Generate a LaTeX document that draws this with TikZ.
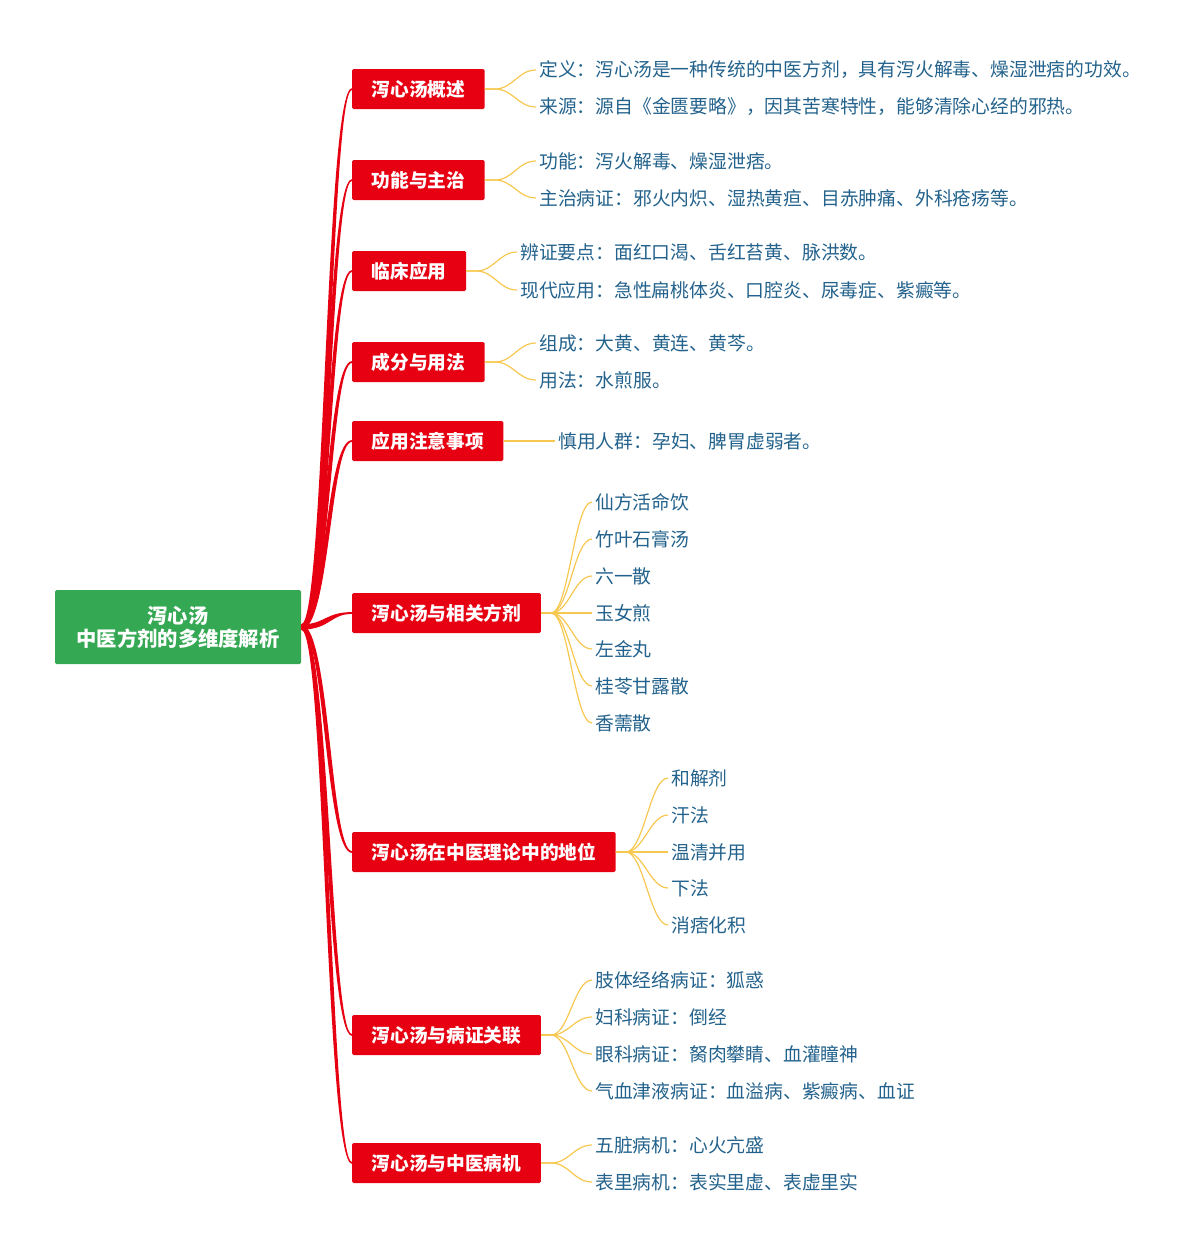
\documentclass[tikz,border=0pt]{standalone}
\usepackage{fontspec}
\setmainfont{Noto Sans CJK SC}
\usetikzlibrary{calc}

\definecolor{rootgreen}{RGB}{52,168,83}
\definecolor{boxred}{RGB}{230,0,18}
\definecolor{twiggold}{RGB}{247,200,80}
\definecolor{leafblue}{RGB}{35,98,140}

\tikzset{
  rootbox/.style={fill=rootgreen, text=white, font=\fontsize{20.3}{23}\selectfont\bfseries,
    align=center, minimum width=246pt, minimum height=74pt, rounded corners=1.5pt, inner sep=0pt},
  branchbox/.style={fill=boxred, text=white, font=\fontsize{18.7}{22}\selectfont\bfseries,
    minimum height=40pt, inner xsep=19.5pt, inner ysep=0pt, rounded corners=1.5pt, anchor=west},
  leaf/.style={text=leafblue, font=\fontsize{18.8}{22}\selectfont, anchor=west, inner xsep=3pt, inner ysep=1pt},
  twig/.style={draw=twiggold, line width=1.2pt},
}

% tapered red link from the root to one branch box (#2 = -1 up, 1 down)
\newcommand{\trunk}[2]{%
  \fill[boxred] ($(root.east)+(0,2.6*#2)$) .. controls ($(root.east)+(23.5,2.6*#2)$) and ($(#1.west)+(-26.5,0.9*#2)$)
    .. ($(#1.west)+(0,0.9*#2)$) -- ($(#1.west)+(0,-0.9*#2)$)
    .. controls ($(#1.west)+(-21.5,-0.9*#2)$) and ($(root.east)+(28.5,-2.6*#2)$) .. ($(root.east)+(0,-2.6*#2)$) -- cycle;}
% gold links from a branch box to its leaves
\newcommand{\twigs}[2]{%
  \foreach \l in {#2} \draw[twig] (#1.east) -- ++(10,0) .. controls +(18,0) and +(-18,0) .. (\l.west);}

\begin{document}
\begin{tikzpicture}[x=1pt, y=-1pt]
\useasboundingbox (0,0) rectangle (1200,1253);

\node[rootbox] (root) at (178,627) {泻心汤\\中医方剂的多维度解析};

% branches
\node[branchbox] (b1) at (352,89) {泻心汤概述};
\node[branchbox] (b2) at (352,180) {功能与主治};
\node[branchbox] (b3) at (352,271) {临床应用};
\node[branchbox] (b4) at (352,362) {成分与用法};
\node[branchbox] (b5) at (352,441) {应用注意事项};
\node[branchbox] (b6) at (352,613) {泻心汤与相关方剂};
\node[branchbox] (b7) at (352,852) {泻心汤在中医理论中的地位};
\node[branchbox] (b8) at (352,1035) {泻心汤与病证关联};
\node[branchbox] (b9) at (352,1163) {泻心汤与中医病机};

\foreach \b in {b1,b2,b3,b4,b5,b6} \trunk{\b}{-1};
\foreach \b in {b7,b8,b9} \trunk{\b}{1};

% leaves
\node[leaf] (l11) at (536,70) {定义：泻心汤是一种传统的中医方剂，具有泻火解毒、燥湿泄痞的功效。};
\node[leaf] (l12) at (536,107) {来源：源自《金匮要略》，因其苦寒特性，能够清除心经的邪热。};

\node[leaf] (l21) at (536,161) {功能：泻火解毒、燥湿泄痞。};
\node[leaf] (l22) at (536,198) {主治病证：邪火内炽、湿热黄疸、目赤肿痛、外科疮疡等。};

\node[leaf] (l31) at (517,252) {辨证要点：面红口渴、舌红苔黄、脉洪数。};
\node[leaf] (l32) at (517,290) {现代应用：急性扁桃体炎、口腔炎、尿毒症、紫癜等。};

\node[leaf] (l41) at (536,343) {组成：大黄、黄连、黄芩。};
\node[leaf] (l42) at (536,380) {用法：水煎服。};

\node[leaf] (l51) at (555,441) {慎用人群：孕妇、脾胃虚弱者。};

\node[leaf] (l61) at (592,502) {仙方活命饮};
\node[leaf] (l62) at (592,539) {竹叶石膏汤};
\node[leaf] (l63) at (592,576) {六一散};
\node[leaf] (l64) at (592,613) {玉女煎};
\node[leaf] (l65) at (592,649) {左金丸};
\node[leaf] (l66) at (592,686) {桂苓甘露散};
\node[leaf] (l67) at (592,723) {香薷散};

\node[leaf] (l71) at (668,778) {和解剂};
\node[leaf] (l72) at (668,815) {汗法};
\node[leaf] (l73) at (668,852) {温清并用};
\node[leaf] (l74) at (668,888) {下法};
\node[leaf] (l75) at (668,925) {消痞化积};

\node[leaf] (l81) at (592,980) {肢体经络病证：狐惑};
\node[leaf] (l82) at (592,1017) {妇科病证：倒经};
\node[leaf] (l83) at (592,1054) {眼科病证：胬肉攀睛、血灌瞳神};
\node[leaf] (l84) at (592,1091) {气血津液病证：血溢病、紫癜病、血证};

\node[leaf] (l91) at (592,1145) {五脏病机：心火亢盛};
\node[leaf] (l92) at (592,1182) {表里病机：表实里虚、表虚里实};

\twigs{b1}{l11,l12}
\twigs{b2}{l21,l22}
\twigs{b3}{l31,l32}
\twigs{b4}{l41,l42}
\twigs{b5}{l51}
\twigs{b6}{l61,l62,l63,l64,l65,l66,l67}
\twigs{b7}{l71,l72,l73,l74,l75}
\twigs{b8}{l81,l82,l83,l84}
\twigs{b9}{l91,l92}

\end{tikzpicture}
\end{document}
